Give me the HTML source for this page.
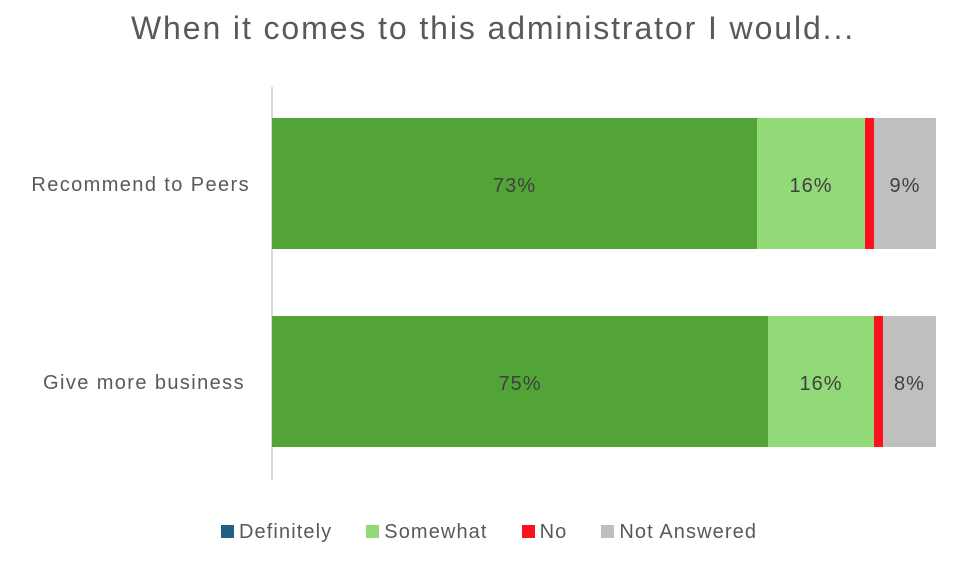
<!DOCTYPE html>
<html><head><style>
body{margin:0;width:972px;height:574px;background:#fff;font-family:"Liberation Sans",sans-serif;position:relative;overflow:hidden;color:#595959}
.a{position:absolute}
.t{display:flex;align-items:center;justify-content:center;color:#404040;position:absolute;font-size:20px;letter-spacing:1px;padding-top:6px;box-sizing:border-box}
.l{position:absolute;left:0;text-align:right;font-size:20px;letter-spacing:1.4px}
.s{display:inline-block;width:13px;height:13px;margin-right:5px}
</style></head><body>
<div class="a" style="left:0;width:986px;top:10px;text-align:center;font-size:32px;letter-spacing:1.9px;color:#595959">When it comes to this administrator I would...</div>
<div class="a" style="left:271px;top:87px;width:1.5px;height:393px;background:#d9d9d9"></div>

<div class="l" style="width:250px;top:174px">Recommend to Peers</div>
<div class="t" style="left:272px;top:118px;width:485px;height:131px;background:#52a437">73%</div>
<div class="t" style="left:757px;top:118px;width:108px;height:131px;background:#92d978">16%</div>
<div class="a" style="left:865px;top:118px;width:9px;height:131px;background:#ff101e"></div>
<div class="t" style="left:874px;top:118px;width:62px;height:131px;background:#bfbfbf">9%</div>

<div class="l" style="width:245px;top:372px">Give more business</div>
<div class="t" style="left:272px;top:316px;width:496px;height:131px;background:#52a437">75%</div>
<div class="t" style="left:768px;top:316px;width:106px;height:131px;background:#92d978">16%</div>
<div class="a" style="left:874px;top:316px;width:9px;height:131px;background:#ff101e"></div>
<div class="t" style="left:883px;top:316px;width:53px;height:131px;background:#bfbfbf">8%</div>

<div class="a" style="top:521px;left:221px;font-size:20px;letter-spacing:1.1px;white-space:nowrap">
<span class="s" style="background:#1f6282"></span>Definitely<span class="s" style="background:#92d978;margin-left:34px"></span>Somewhat<span class="s" style="background:#ff101e;margin-left:34px"></span>No<span class="s" style="background:#bfbfbf;margin-left:34px"></span>Not Answered
</div>
</body></html>
